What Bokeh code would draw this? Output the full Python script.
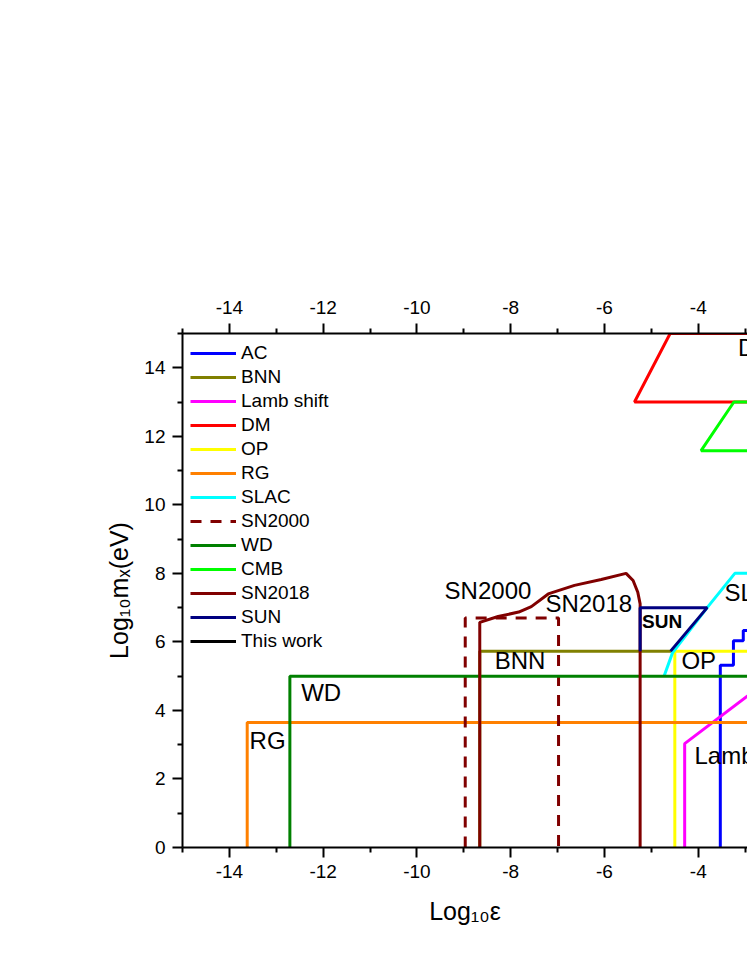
from bokeh.plotting import figure
from bokeh.models import LinearAxis, Range1d, Legend, LegendItem, FixedTicker, ColumnDataSource
from bokeh.core.properties import value
from bokeh.embed import file_html
from bokeh.resources import INLINE

FONT = "Liberation Sans"
NAN = float("nan")

# ---------------- data (log10 epsilon, log10 m_x [eV]) ----------------
ac_x = [-3.53, -3.53, -3.25, -3.25, -3.04, -3.04, -2.5]
ac_y = [0.0, 5.32, 5.32, 6.03, 6.03, 6.33, 6.33]

bnn_x = [-8.66, -8.66, -4.55]
bnn_y = [0.0, 5.73, 5.73]

lamb_x = [-4.29, -4.29, -2.5]
lamb_y = [0.0, 3.03, 4.89]

dm_x = [-2.5, -4.60, -5.36, -2.5]
dm_y = [15.0, 15.0, 13.0, 13.0]

op_x = [-4.50, -4.50, -2.5]
op_y = [0.0, 5.73, 5.73]

rg_x = [-13.62, -13.62, -2.5]
rg_y = [0.0, 3.65, 3.65]

slac_x = [-4.73, -4.55, -3.81, -3.22, -2.5]
slac_y = [5.0, 5.68, 7.0, 8.0, 8.0]

sn2000_x = [-8.97, -8.97, -6.98, -6.98]
sn2000_y = [0.0, 6.7, 6.7, 0.0]

wd_x = [-12.71, -12.71, -2.5]
wd_y = [0.0, 5.0, 5.0]

cmb_x = [-2.5, -3.24, -3.94, -2.5]
cmb_y = [13.0, 13.0, 11.58, 11.58]

sn2018_x = [-8.66, -8.66, -8.27, -7.83, -7.56, -7.20, -6.64, -6.07, -5.54, -5.39, -5.29, -5.24, -5.24]
sn2018_y = [0.0, 6.57, 6.74, 6.87, 7.03, 7.40, 7.65, 7.82, 8.00, 7.79, 7.45, 7.11, 0.0]

sun_x = [-5.24, -5.24, -3.81, -4.59]
sun_y = [5.73, 7.0, 7.0, 5.73]

# "This work" curve lies outside the visible part of the chart
thiswork_x = [NAN]
thiswork_y = [NAN]

label_text = ["RG", "WD", "SN2000", "SN2018", "BNN", "OP", "SLAC", "Lamb shift", "DM"]
label_x = [-13.57, -12.47, -9.41, -7.26, -8.34, -4.36, -3.44, -4.08, -3.15]
label_y = [3.12, 4.53, 7.5, 7.11, 5.46, 5.46, 7.45, 2.68, 14.6]

sun_label = ["SUN"]
sun_label_x = [-5.20]
sun_label_y = [6.6]

x_major = [-14, -12, -10, -8, -6, -4, -2]
x_minor = [-15, -13, -11, -9, -7, -5, -3]
x_tick_labels = ["-14", "-12", "-10", "-8", "-6", "-4", "-2"]
y_major = [0, 2, 4, 6, 8, 10, 12, 14]
y_minor = [1, 3, 5, 7, 9, 11, 13, 15]

# ---------------- figure ----------------
p = figure(width=747, height=955, output_backend="svg", toolbar_location=None,
           x_range=Range1d(-15, -2.95), y_range=Range1d(0, 15),
           min_border_left=182, min_border_right=0, min_border_top=333, min_border_bottom=108)
p.outline_line_color = None
p.grid.visible = False
p.background_fill_color = "white"
p.border_fill_color = "white"

LW = 3
series = [
    ("AC", ac_x, ac_y, "#0000FF", "solid"),
    ("BNN", bnn_x, bnn_y, "#808000", "solid"),
    ("Lamb shift", lamb_x, lamb_y, "#FF00FF", "solid"),
    ("DM", dm_x, dm_y, "#FF0000", "solid"),
    ("OP", op_x, op_y, "#FFFF00", "solid"),
    ("RG", rg_x, rg_y, "#FF8000", "solid"),
    ("SLAC", slac_x, slac_y, "#00FFFF", "solid"),
    ("SN2000", sn2000_x, sn2000_y, "#800000", "11 9"),
    ("WD", wd_x, wd_y, "#008000", "solid"),
    ("CMB", cmb_x, cmb_y, "#00FF00", "solid"),
    ("SN2018", sn2018_x, sn2018_y, "#800000", "solid"),
    ("SUN", sun_x, sun_y, "#000080", "solid"),
    ("This work", thiswork_x, thiswork_y, "#000000", "solid"),
]

items = []
for name, xs, ys, col, dash in series:
    r = p.line(xs, ys, line_color=col, line_width=LW, line_dash=dash)
    items.append(LegendItem(label=name, renderers=[r]))

src = ColumnDataSource(dict(x=label_x, y=label_y, t=label_text))
p.text(x="x", y="y", text="t", source=src, text_font=value(FONT), text_font_size="24px",
       text_baseline="middle", text_align="left", text_color="black")
p.text(x=sun_label_x, y=sun_label_y, text=sun_label, text_font=value(FONT), text_font_size="19px",
       text_font_style="bold", text_baseline="middle", text_align="left", text_color="black")

legend = Legend(items=items, location="top_left", border_line_alpha=0, background_fill_alpha=0,
                label_text_font=FONT, label_text_font_size="19px", label_text_color="black",
                glyph_width=46, glyph_height=24, label_height=24, spacing=0, padding=0,
                margin=8, label_standoff=5)
p.add_layout(legend)

# axes
top = LinearAxis()
p.add_layout(top, "above")
bottom = p.below[0]
left = p.left[0]
for ax in [bottom, top]:
    ax.ticker = FixedTicker(ticks=x_major, minor_ticks=x_minor)
    ax.major_label_overrides = {t: s for t, s in zip(x_major, x_tick_labels)}
left.ticker = FixedTicker(ticks=y_major, minor_ticks=y_minor)

for ax in [bottom, top, left]:
    ax.axis_line_width = 2
    ax.major_tick_line_width = 2
    ax.minor_tick_line_width = 2
    ax.major_tick_in = 0
    ax.major_tick_out = 10
    ax.minor_tick_in = 0
    ax.minor_tick_out = 5
    ax.major_label_standoff = 7
    ax.major_label_text_font = FONT
    ax.major_label_text_font_size = "19px"
    ax.major_label_text_color = "black"
    ax.axis_label_text_font = FONT
    ax.axis_label_text_font_style = "normal"
    ax.axis_label_text_font_size = "25px"
    ax.axis_label_text_color = "black"

top.major_label_standoff = 10
bottom.axis_label = "Log₁₀ε"
bottom.axis_label_standoff = 16
left.axis_label = "Log₁₀mₓ(eV)"
left.axis_label_standoff = 8
top.axis_label = None

open("out.html", "w").write(file_html(p, INLINE))
